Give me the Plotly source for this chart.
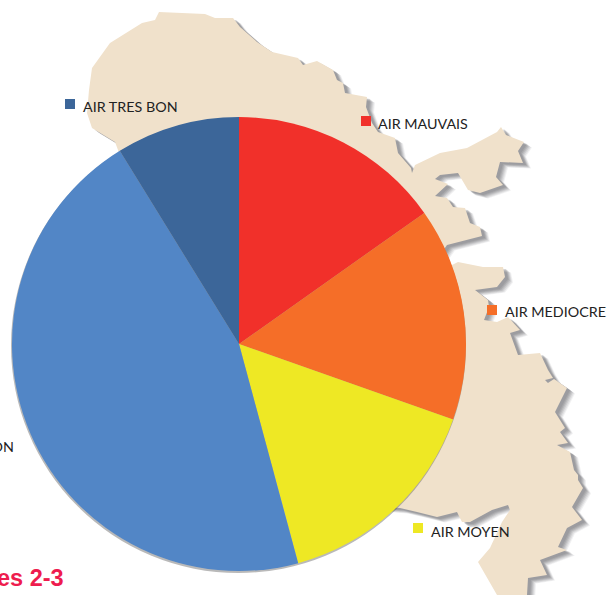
import plotly.graph_objects as go

categories = ["AIR MAUVAIS", "AIR MEDIOCRE", "AIR MOYEN", "AIR BON", "AIR TRES BON"]
values = [15.2, 15.2, 15.4, 45.4, 8.8]
colors = ["#F1302A", "#F56E28", "#EEE824", "#5286C6", "#3C6699"]

caption = "es 2-3"

# Outline of the island behind the pie (decorative backdrop)
outline = [
    (118,150),(115,142),(92,128),(87,113),(89,90),(92,68),(110,43),(130,30),(142,23),(155,20),(159,12),
    (205,14),(215,18),(233,18),(240,27),(257,42),(272,52),(298,58),(303,65),(317,61),(333,70),(337,80),
    (343,83),(345,93),(367,97),(366,107),(372,123),(378,132),(395,138),(398,153),(411,168),(412,173),
    (415,165),(440,153),(467,148),(497,132),(501,127),(506,135),(524,142),(518,151),(523,163),(500,162),
    (496,177),(503,185),(480,193),(468,190),(462,180),(458,173),(440,175),(435,179),(448,184),(435,196),
    (447,198),(453,207),(465,208),(470,223),(480,227),(482,236),(447,245),(440,255),(450,266),(458,262),
    (483,267),(503,267),(505,277),(497,287),(475,290),(488,300),(489,307),(484,320),(497,322),(508,317),
    (520,330),(510,333),(518,355),(540,353),(548,370),(553,378),(545,380),(548,383),(554,379),(567,388),
    (555,412),(565,428),(560,432),(568,443),(557,445),(570,452),(574,470),(578,475),(578,480),(583,488),
    (572,507),(582,520),(567,528),(558,547),(567,550),(540,560),(547,575),(528,578),(527,595),(497,595),
    (478,562),(490,548),(502,522),(510,510),(508,505),(492,510),(470,522),(462,522),(457,512),(437,517),
    (417,512),(400,508),(300,500),(200,400),
]
map_x = [p[0] for p in outline]
map_y = [p[1] for p in outline]

W, H = 607, 595
CX, CY, R = 239, 344, 227

fig = go.Figure()

# soft drop shadow of the island
for off, op in [(8, 0.10), (7, 0.14), (6, 0.18), (5, 0.22), (4, 0.25), (3, 0.25)]:
    fig.add_trace(go.Scatter(
        x=[v + off for v in map_x], y=[v + off * 0.7 for v in map_y],
        mode="lines", fill="toself", fillcolor=f"rgba(120,120,125,{op})",
        line=dict(width=0), hoverinfo="skip", showlegend=False))

fig.add_trace(go.Scatter(
    x=map_x, y=map_y, mode="lines", fill="toself", fillcolor="#F0E1CB",
    line=dict(width=0), hoverinfo="skip", showlegend=False))

# legend squares placed around the pie
square_x = [366, 492, 418, 70]
square_y = [121, 310, 528, 104]
square_cat = [0, 1, 2, 4]
fig.add_trace(go.Scatter(
    x=square_x, y=square_y, mode="markers",
    marker=dict(symbol="square", size=10, color=[colors[i] for i in square_cat], line=dict(width=0)),
    hoverinfo="skip", showlegend=False))

# thin shadow disc under the pie
fig.add_trace(go.Pie(
    values=[1], sort=False, marker=dict(colors=["rgba(80,80,80,0.4)"], line=dict(width=0)),
    textinfo="none", showlegend=False, hoverinfo="skip",
    domain=dict(x=[(CX - R - 1) / W, (CX + R) / W], y=[1 - (CY + R + 2) / H, 1 - (CY - R + 1) / H])))

fig.add_trace(go.Pie(
    labels=categories, values=values, sort=False, direction="clockwise", rotation=0,
    marker=dict(colors=colors, line=dict(width=0)), textinfo="none", showlegend=False,
    domain=dict(x=[(CX - R) / W, (CX + R) / W], y=[1 - (CY + R) / H, 1 - (CY - R) / H])))

label_font = dict(family="Lato", size=14.3, color="#222222")
annotations = [
    dict(x=378, y=123, text=categories[0], xanchor="left"),
    dict(x=505, y=311, text=categories[1], xanchor="left"),
    dict(x=431, y=531, text=categories[2], xanchor="left"),
    dict(x=14, y=446, text=categories[3], xanchor="right"),
    dict(x=83, y=106, text=categories[4], xanchor="left"),
]
for a in annotations:
    a.update(xref="x", yref="y", yanchor="middle", showarrow=False, font=label_font,
             borderpad=0, borderwidth=0)
annotations.append(dict(
    x=65, y=578, xref="x", yref="y", text=f"<b>{caption}</b>", xanchor="right", yanchor="middle",
    showarrow=False, borderpad=0,
    font=dict(family="Liberation Sans", size=23.5, color="#EE1C4E")))

fig.update_layout(
    width=W, height=H, margin=dict(l=0, r=0, t=0, b=0),
    paper_bgcolor="white", plot_bgcolor="white",
    xaxis=dict(range=[0, W], visible=False, fixedrange=True),
    yaxis=dict(range=[H, 0], visible=False, fixedrange=True),
    annotations=annotations,
)
fig.write_html("out.html", config=dict(displayModeBar=False),
               post_script="document.body.style.margin='0';document.documentElement.style.overflow='hidden';")
